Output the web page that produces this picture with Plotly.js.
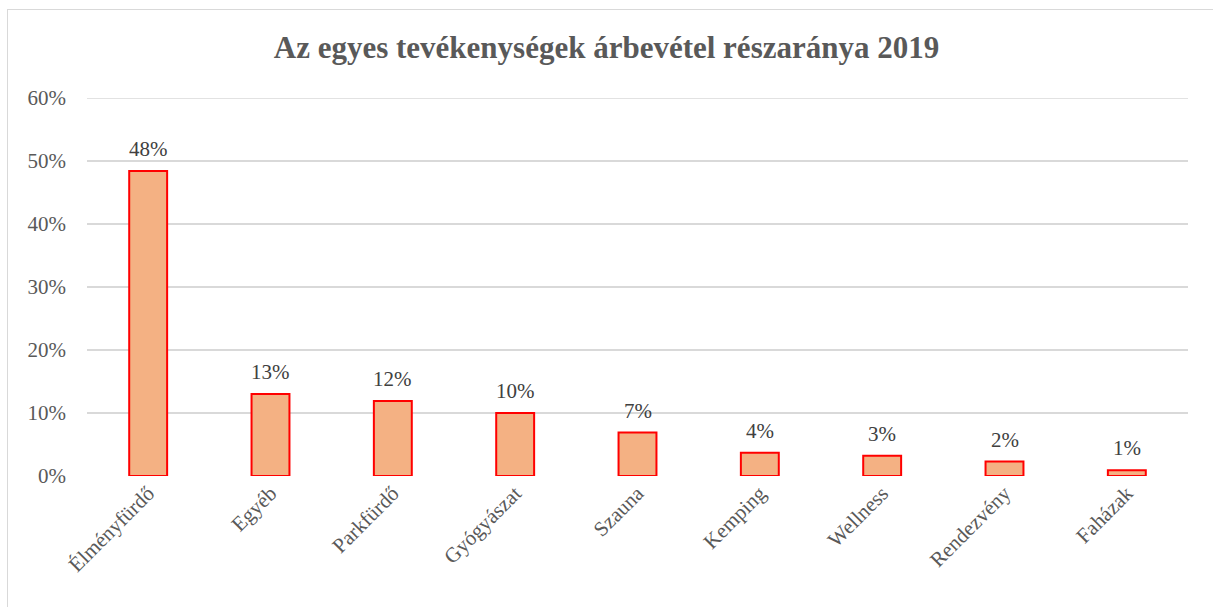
<!DOCTYPE html>
<html><head><meta charset="utf-8">
<script src="https://cdn.plot.ly/plotly-3.0.1.min.js"></script>
<style>
html,body{margin:0;padding:0;background:#fff;}
#frame{position:absolute;left:7px;top:9px;width:1220px;height:610px;border:1px solid #d9d9d9;}
#chart{position:absolute;left:0;top:0;width:1213px;height:607px;}
</style></head>
<body>
<div id="frame"></div>
<div id="chart"></div>
<script>
const categories = ["Élményfürdő","Egyéb","Parkfürdő","Gyógyászat","Szauna","Kemping","Wellness","Rendezvény","Faházak"];
const shares = [0.484,0.130,0.119,0.100,0.069,0.037,0.032,0.023,0.009];
const labels = ["48%","13%","12%","10%","7%","4%","3%","2%","1%"];
const yTicks = [0,0.1,0.2,0.3,0.4,0.5,0.6];
const yTickText = ["0%","10%","20%","30%","40%","50%","60%"];

const font = "Liberation Serif, Times New Roman, serif";
const trace = {
  type:"bar", x:categories, y:shares, width:0.31,
  marker:{color:"#f4b183", line:{color:"#ff0000", width:2}},
  hoverinfo:"skip"
};
const annotations = categories.map((c,i)=>({
  x:c, y:shares[i], xref:"x", yref:"y", text:labels[i], showarrow:false,
  yanchor:"bottom", yshift:8, font:{family:font,size:21,color:"#404040"}
}));
const topTick = yTicks[yTicks.length-1];
const layout = {
  width:1213, height:607,
  margin:{l:87,r:25,t:98,b:131},
  paper_bgcolor:"rgba(0,0,0,0)", plot_bgcolor:"rgba(0,0,0,0)",
  title:{text:"<b>Az egyes tevékenységek árbevétel részaránya 2019</b>", x:0.5, xanchor:"center", y:0.922, yanchor:"middle",
    font:{family:font,size:31,color:"#595959"}},
  xaxis:{tickangle:-45, tickfont:{family:font,size:21,color:"#595959"}, showline:false, ticks:"", showgrid:false, fixedrange:true},
  yaxis:{range:[0,topTick], tickvals:yTicks, ticktext:yTickText, tickfont:{family:font,size:21,color:"#595959"},
    gridcolor:"#d9d9d9", gridwidth:1.5, zeroline:false, showline:false, ticks:"", ticklabelstandoff:20, fixedrange:true},
  shapes:[{type:"line", xref:"paper", yref:"y", x0:0, x1:1, y0:topTick, y1:topTick, line:{color:"#d9d9d9", width:1.5}, layer:"below"}],
  annotations:annotations,
  showlegend:false
};
Plotly.newPlot("chart",[trace],layout,{displayModeBar:false,staticPlot:true});
</script>
</body></html>
